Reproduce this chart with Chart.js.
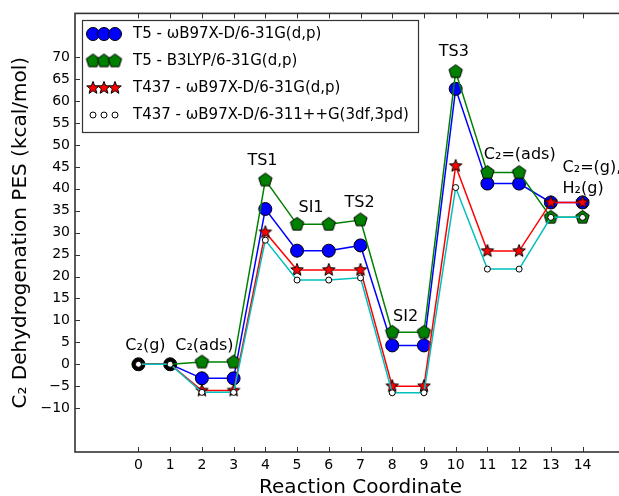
<!DOCTYPE html>
<html><head><meta charset="utf-8">
<script src="https://cdn.jsdelivr.net/npm/chart.js@4/dist/chart.umd.min.js"></script>
<style>html,body{margin:0;padding:0;overflow:hidden;background:#fff}</style>
</head><body>
<canvas id="c" width="660" height="496"></canvas>
<script>
// ---- data ----
const coords = [0,1,2,3,4,5,6,7,8,9,10,11,12,13,14];
const xTickValues = [0,1,2,3,4,5,6,7,8,9,10,11,12,13,14];
const yTickValues = [-10,-5,0,5,10,15,20,25,30,35,40,45,50,55,60,65,70];
const seriesLabels = [
  'T5 - ωB97X-D/6-31G(d,p)',
  'T5 - B3LYP/6-31G(d,p)',
  'T437 - ωB97X-D/6-31G(d,p)',
  'T437 - ωB97X-D/6-311++G(3df,3pd)'
];
const t5wb97   = [0,0,-3.2,-3.2,35.4,25.9,25.9,27.1,4.3,4.3,62.8,41.2,41.2,36.9,36.9];
const t5b3lyp  = [0,0,0.5,0.5,42.0,31.9,31.9,32.9,7.3,7.3,66.7,43.7,43.7,33.5,33.5];
const t437wb97 = [0,0,-6.0,-6.0,30.1,21.5,21.5,21.5,-5.0,-5.0,45.2,25.8,25.8,36.9,36.9];
const t437big  = [0,0,-6.4,-6.4,28.3,19.2,19.2,19.7,-6.5,-6.5,40.3,21.7,21.7,33.5,33.5];
const annTexts = ['C₂(g)','C₂(ads)','TS1','SI1','TS2','SI2','TS3','C₂=(ads)','C₂=(g),','H₂(g)'];
const annX     = [0.22, 2.08, 3.91, 5.44, 6.97, 8.42, 9.94, 12.02, 13.37, 13.37];
const annY     = [4.1, 4.1, 46.4, 35.7, 36.9, 10.9, 71.2, 47.7, 44.8, 39.9];
const xTitle = 'Reaction Coordinate';
const yTitle = 'C₂ Dehydrogenation PES (kcal/mol)';

// ---- styles ----
const FONT = 'DejaVu Sans';
const BLUE = '#0000ff', GREEN = '#008000', RED = '#ff0000', CYAN = '#00bfbf';

function makeMarker(r, draw) {
  const c = document.createElement('canvas');
  const s = Math.ceil(2 * r + 4);
  c.width = s; c.height = s;
  const g = c.getContext('2d');
  g.translate(s / 2, s / 2);
  draw(g);
  return c;
}
function polyPath(g, n, rOuter, rInner) {
  g.beginPath();
  const k = rInner ? n * 2 : n;
  for (let i = 0; i < k; i++) {
    const rr = rInner ? (i % 2 ? rInner : rOuter) : rOuter;
    const a = -Math.PI / 2 + i * Math.PI * 2 / k;
    const px = rr * Math.cos(a), py = rr * Math.sin(a);
    i ? g.lineTo(px, py) : g.moveTo(px, py);
  }
  g.closePath();
}
const pentagon = makeMarker(7.5, g => {
  polyPath(g, 5, 7, 0);
  g.fillStyle = GREEN; g.fill();
  g.lineWidth = 1; g.strokeStyle = '#000'; g.stroke();
});
const star = makeMarker(7, g => {
  polyPath(g, 5, 6.6, 2.8);
  g.fillStyle = RED; g.fill();
  g.lineWidth = 1; g.strokeStyle = '#000'; g.stroke();
});

const hideFirst = r => ctx => ctx.dataIndex < 2 ? 0 : r;

const datasets = [
  { label: seriesLabels[0], data: t5wb97, borderColor: BLUE, order: 4,
    pointStyle: 'circle', pointRadius: 6.5,
    pointBackgroundColor: ctx => ctx.dataIndex < 2 ? '#000' : BLUE,
    pointBorderColor: '#000', pointBorderWidth: 1 },
  { label: seriesLabels[1], data: t5b3lyp, borderColor: GREEN, order: 3,
    pointStyle: pentagon, pointRadius: hideFirst(7) },
  { label: seriesLabels[2], data: t437wb97, borderColor: RED, order: 2,
    pointStyle: star, pointRadius: hideFirst(7) },
  { label: seriesLabels[3], data: t437big, borderColor: CYAN, order: 1,
    pointStyle: 'circle', pointRadius: 3, pointBackgroundColor: '#fff',
    pointBorderColor: '#000', pointBorderWidth: 1 }
].map(d => Object.assign({ borderWidth: 1.5, tension: 0, fill: false }, d,
  { data: d.data.map((v, i) => ({ x: coords[i], y: v })) }));

const framePlugin = {
  id: 'frame',
  afterDatasetsDraw(chart) {
    const { ctx, chartArea: a, scales } = chart;
    ctx.save();
    ctx.strokeStyle = '#333';
    ctx.lineWidth = 1;
    const TL = 5;
    ctx.beginPath();
    xTickValues.forEach(v => {
      const px = Math.round(scales.x.getPixelForValue(v)) + 0.5;
      ctx.moveTo(px, a.bottom); ctx.lineTo(px, a.bottom - TL);
      ctx.moveTo(px, a.top); ctx.lineTo(px, a.top + TL);
    });
    yTickValues.forEach(v => {
      const py = Math.round(scales.y.getPixelForValue(v)) + 0.5;
      ctx.moveTo(a.left, py); ctx.lineTo(a.left + TL, py);
      ctx.moveTo(a.right, py); ctx.lineTo(a.right - TL, py);
    });
    ctx.stroke();
    ctx.lineWidth = 1.6;
    ctx.strokeRect(a.left, a.top, a.right - a.left, a.bottom - a.top);
    ctx.restore();
  }
};

const annPlugin = {
  id: 'ann',
  afterDatasetsDraw(chart) {
    const { ctx, scales } = chart;
    ctx.save();
    ctx.font = '16px "' + FONT + '"';
    ctx.fillStyle = '#000';
    ctx.textBaseline = 'middle';
    annTexts.forEach((t, i) => {
      const left = i >= 8;
      ctx.textAlign = left ? 'left' : 'center';
      ctx.fillText(t, scales.x.getPixelForValue(annX[i]), scales.y.getPixelForValue(annY[i]));
    });
    ctx.restore();
  }
};

const legendPlugin = {
  id: 'mplLegend',
  afterDraw(chart) {
    const { ctx } = chart;
    const box = { x: 82, y: 20, w: 336, h: 112 };
    ctx.save();
    ctx.fillStyle = '#fff';
    ctx.fillRect(box.x, box.y, box.w, box.h);
    ctx.strokeStyle = '#333'; ctx.lineWidth = 1.2;
    ctx.strokeRect(box.x + 0.5, box.y + 0.5, box.w, box.h);
    const rows = [34, 61, 88, 115];
    const mx = [93, 104, 115];
    ctx.font = '15px "' + FONT + '"';
    ctx.textBaseline = 'middle';
    ctx.textAlign = 'left';
    chart.data.datasets.forEach((ds, i) => {
      const y = rows[i];
      mx.forEach(x => {
        if (i === 0) {
          ctx.beginPath(); ctx.arc(x, y, 6.5, 0, Math.PI * 2);
          ctx.fillStyle = BLUE; ctx.fill(); ctx.lineWidth = 1; ctx.strokeStyle = '#000'; ctx.stroke();
        } else if (i === 1) {
          ctx.drawImage(pentagon, x - pentagon.width / 2, y - pentagon.height / 2);
        } else if (i === 2) {
          ctx.drawImage(star, x - star.width / 2, y - star.height / 2);
        } else {
          ctx.beginPath(); ctx.arc(x, y, 3, 0, Math.PI * 2);
          ctx.fillStyle = '#fff'; ctx.fill(); ctx.lineWidth = 1; ctx.strokeStyle = '#000'; ctx.stroke();
        }
      });
      ctx.fillStyle = '#000';
      ctx.fillText(ds.label, 133, y);
    });
    ctx.restore();
  }
};

const minus = v => v < 0 ? '\u2212' + Math.abs(v) : String(v);

new Chart(document.getElementById('c'), {
  type: 'line',
  data: { datasets },
  options: {
    responsive: false,
    animation: false,
    events: [],
    layout: { padding: { top: 11, right: 14, left: 0, bottom: 0 } },
    plugins: { legend: { display: false }, tooltip: { enabled: false } },
    scales: {
      x: {
        type: 'linear', min: -2, max: 16,
        afterBuildTicks: s => { s.ticks = xTickValues.map(v => ({ value: v })); },
        afterFit: s => { s.height = 44; },
        grid: { display: false, drawTicks: false },
        border: { display: false },
        ticks: { color: '#000', font: { family: FONT, size: 14 }, padding: 5, maxRotation: 0, autoSkip: false, callback: v => minus(v) },
        title: { display: true, text: xTitle, color: '#000', font: { family: FONT, size: 20, lineHeight: 0.8 }, padding: 0 }
      },
      y: {
        type: 'linear', min: -20, max: 80,
        afterBuildTicks: s => { s.ticks = yTickValues.map(v => ({ value: v })); },
        afterFit: s => { s.width = 75; },
        grid: { display: false, drawTicks: false },
        border: { display: false },
        ticks: { color: '#000', font: { family: FONT, size: 14 }, padding: 5, autoSkip: false, callback: v => minus(v) },
        title: { display: true, text: yTitle, color: '#000', font: { family: FONT, size: 20, lineHeight: 1 }, padding: { top: 11, bottom: 0 } }
      }
    }
  },
  plugins: [framePlugin, annPlugin, legendPlugin]
});
</script>
</body></html>
